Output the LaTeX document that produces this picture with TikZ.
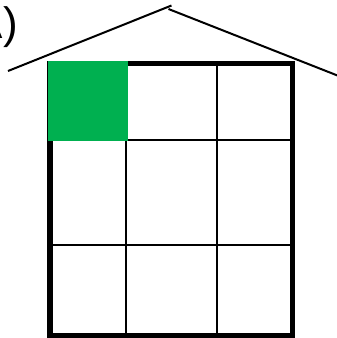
\documentclass[tikz,border=0pt]{standalone}
\usepackage{fontspec}
\setmainfont{Liberation Sans}
\usepackage{xcolor}
\definecolor{cCell}{HTML}{00B050}
\usepackage{tikz}

\begin{document}
\begin{tikzpicture}[
    x=1pt, y=-1pt,
    roofline/.style={line width=2pt},
    gridline/.style={line width=2pt},
    frame/.style={line width=5.5pt},
    cell/.style={fill=cCell, draw=none}
]
\useasboundingbox (0,0) rectangle (337,338);
% label
\node[anchor=base west, inner sep=0pt, font=\fontsize{44}{44}\selectfont] (lbl) at (-26.5,38.5) {A)};
% roof
\coordinate (eaveL) at (8,71);
\coordinate (apexL) at (171.5,5.5);
\coordinate (apexR) at (168.5,9);
\coordinate (eaveR) at (340,76.5);
\draw[roofline] (eaveL) -- (apexL);
\draw[roofline] (apexR) -- (eaveR);
% grid
\coordinate (tl) at (50,63.5);
\coordinate (br) at (292.5,335.5);
\draw[gridline] (126,63.5) -- (126,335.5);
\draw[gridline] (216.5,63.5) -- (216.5,335.5);
\draw[gridline] (50,139.5) -- (292.5,139.5);
\draw[gridline] (50,244.5) -- (292.5,244.5);
\draw[frame] (tl) rectangle (br);
\fill[cell] (47.5,61) rectangle (128,141);
\end{tikzpicture}
\end{document}
